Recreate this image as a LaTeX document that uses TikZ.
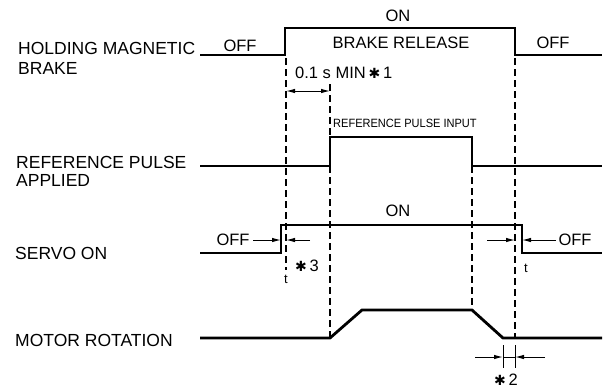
\documentclass[tikz,border=0pt]{standalone}
\usepackage{fontspec}
\setmainfont{Liberation Sans}
\newfontfamily\dejavu{DejaVu Sans}
\usetikzlibrary{arrows.meta}
\newcommand{\hvstar}{{\dejavu\fontsize{14}{14}\selectfont ✱}}
\begin{document}
\begin{tikzpicture}[x=1pt,y=-1pt,
  sig/.style={line width=2.8pt, line join=miter},
  guide/.style={line width=1.1pt, dash pattern=on 7pt off 4pt},
  dimline/.style={line width=1pt},
  arr/.style={-{Latex[length=9pt,width=4.5pt]}, line width=1pt},
  lbl/.style={font=\fontsize{17.5}{19}\selectfont, inner sep=0pt, anchor=west},
  txt/.style={font=\fontsize{16.5}{18}\selectfont, inner sep=0pt},
  small/.style={font=\fontsize{12}{13}\selectfont, inner sep=0pt, anchor=west, xscale=0.92},
  tiny/.style={font=\fontsize{13}{14}\selectfont, inner sep=0pt}
]
\useasboundingbox (0,0) rectangle (606,389);

% ---- labels
\node[lbl] (l1a) at (18,48) {HOLDING MAGNETIC};
\node[lbl] (l1b) at (18,68) {BRAKE};
\node[lbl] (l2a) at (16,162) {REFERENCE PULSE};
\node[lbl] (l2b) at (16,180) {APPLIED};
\node[lbl] (l3) at (15,253) {SERVO ON};
\node[lbl] (l4) at (15,340) {MOTOR ROTATION};

% ---- brake signal
\coordinate (b0) at (200,55);
\coordinate (b1) at (285,55);
\coordinate (b2) at (285,28);
\coordinate (b3) at (515,28);
\coordinate (b4) at (515,55);
\coordinate (b5) at (602,55);
\draw[sig] (b0) -- (b1) -- (b2) -- (b3) -- (b4) -- (b5);
\node[txt] (boff1) at (240,46) {OFF};
\node[txt] (bon) at (398,16) {ON};
\node[txt] (brel) at (401,43) {BRAKE RELEASE};
\node[txt] (boff2) at (553,43) {OFF};

% ---- reference pulse
\coordinate (r0) at (200,166);
\coordinate (r1) at (330,166);
\coordinate (r2) at (330,137);
\coordinate (r3) at (472,137);
\coordinate (r4) at (472,166);
\coordinate (r5) at (602,166);
\draw[sig] (r0) -- (r1) -- (r2) -- (r3) -- (r4) -- (r5);
\node[small] (rin) at (333,123) {REFERENCE PULSE INPUT};

% ---- servo on
\coordinate (s0) at (200,253);
\coordinate (s1) at (281,253);
\coordinate (s2) at (281,225);
\coordinate (s3) at (522,225);
\coordinate (s4) at (522,253);
\coordinate (s5) at (602,253);
\draw[sig] (s0) -- (s1) -- (s2) -- (s3) -- (s4) -- (s5);
\node[txt] (son) at (398,211) {ON};
\node[txt] (soff1) at (233,240) {OFF};
\node[txt] (soff2) at (575,240) {OFF};

% ---- motor rotation
\coordinate (m0) at (200,338);
\coordinate (m1) at (330,338);
\coordinate (m2) at (362,310);
\coordinate (m3) at (472,310);
\coordinate (m4) at (503,338);
\coordinate (m5) at (602,338);
\draw[sig] (m0) -- (m1) -- (m2) -- (m3) -- (m4) -- (m5);

% ---- dashed guide lines
\coordinate (g1a) at (286,58);
\coordinate (g1b) at (286,270);
\draw[guide] (g1a) -- (g1b);
\coordinate (g2a) at (330,84);
\draw[guide] (g2a) -- (r2);
\draw[guide] (r1) -- (m1);
\draw[guide] (r4) -- (m3);
\coordinate (g4a) at (515,58);
\coordinate (g4b) at (515,338);
\draw[guide] (g4a) -- (g4b);

% ---- 0.1 s MIN dimension
\node[txt, anchor=west] (tmin) at (295,73) {0.1 s MIN\,\hvstar\,1};
\coordinate (d1m) at (308,91);
\coordinate (d1l) at (286,91);
\coordinate (d1r) at (330,91);
\draw[arr] (d1m) -- (d1l);
\draw[arr] (d1m) -- (d1r);

% ---- servo t (left)
\coordinate (t1a) at (253,240);
\coordinate (t1b) at (281,240);
\coordinate (t1c) at (310,240);
\coordinate (t1d) at (286,240);
\draw[arr] (t1a) -- (t1b);
\draw[arr] (t1c) -- (t1d);
\node[tiny] (tl) at (286,279) {t};
\node[txt] (st3) at (307,266) {\hvstar\,3};

% ---- servo t (right)
\coordinate (t2a) at (487,240);
\coordinate (t2b) at (515,240);
\coordinate (t2c) at (556,240);
\coordinate (t2d) at (522,240);
\draw[arr] (t2a) -- (t2b);
\draw[arr] (t2c) -- (t2d);
\node[tiny] (tr) at (526,268) {t};

% ---- *2 dimension
\coordinate (k1a) at (503,345);
\coordinate (k1b) at (503,368);
\coordinate (k2a) at (515,345);
\coordinate (k2b) at (515,368);
\draw[dimline] (k1a) -- (k1b);
\draw[dimline] (k2a) -- (k2b);
\coordinate (k3a) at (475,357);
\coordinate (k3b) at (503,357);
\coordinate (k3c) at (545,357);
\coordinate (k3d) at (515,357);
\draw[arr] (k3a) -- (k3b);
\draw[arr] (k3c) -- (k3d);
\draw[dimline] (k3b) -- (k3d);
\node[txt] (st2) at (506,380) {\hvstar\,2};
\end{tikzpicture}
\end{document}
